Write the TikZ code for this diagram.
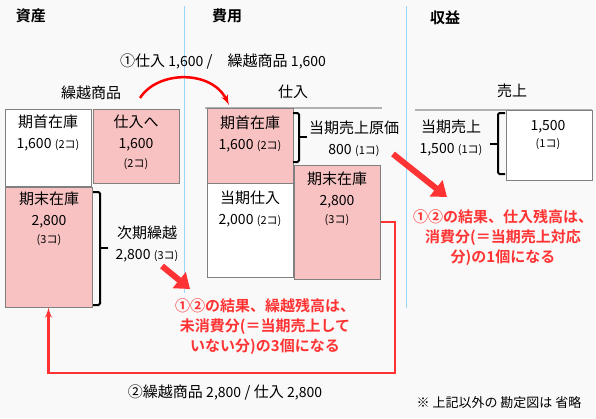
\documentclass[tikz,border=0pt]{standalone}
\usepackage{fontspec}
\setmainfont{Noto Sans CJK JP}[BoldFont={Noto Sans CJK JP Bold}]
\usetikzlibrary{arrows,arrows.meta,shadows}

\definecolor{stockpink}{RGB}{248,194,194}
\definecolor{boxline}{RGB}{128,128,128}
\definecolor{notered}{RGB}{255,51,51}
\definecolor{divblue}{RGB}{150,214,250}
\definecolor{paper}{RGB}{249,249,249}

\newcommand\amt[1]{{\fontsize{14}{21}\selectfont #1}}
\newcommand\pcs[1]{{\fontsize{11}{21}\selectfont (#1コ)}}

\begin{document}
\begin{tikzpicture}[x=1pt,y=-1pt,>=latex',
    entry/.style={draw=boxline,line width=1pt,minimum width=86pt,inner sep=0pt,
      general shadow={fill=black!15,shadow xshift=1pt,shadow yshift=-1pt}},
    stock/.style={entry,fill=stockpink},
    flow/.style={entry,fill=white},
    lbl/.style={font=\fontsize{15}{21}\selectfont,align=center,inner sep=0pt},
    head/.style={font=\fontsize{15}{18}\selectfont\bfseries,inner sep=0pt},
    note/.style={font=\fontsize{15}{20}\selectfont\bfseries,text=notered,align=center,inner sep=0pt},
    tline/.style={draw=black!30,line width=2pt},
    brk/.style={line width=2pt,rounded corners=1.5pt},
    fat/.style={draw=notered,line width=6pt,-{Triangle[width=20pt,length=14pt]}},
    carry/.style={draw=notered,line width=2.5pt,->}]
    \fill[paper] (0,0) rectangle (596,418);
    \useasboundingbox (0,0) rectangle (596,418);
    % dividers
    \draw[divblue,line width=0.8pt] (184,6) -- (184,293);
    \draw[divblue,line width=0.8pt] (406,6) -- (406,308);
    % headings and journal entries
    \node[head] (hAsset) at (31,16) {資産};
    \node[head] (hCost) at (227,16) {費用};
    \node[head] (hRev) at (445,18) {収益};
    \node[lbl] (jnlA) at (223,61) {①仕入 \amt{1,600} /　繰越商品 \amt{1,600}};
    \node[lbl] (jnlB) at (225,392) {②繰越商品 \amt{2,800} / 仕入 \amt{2,800}};
    % T accounts
    \node[lbl] (tCarry) at (91,93) {繰越商品};
    \node[lbl] (tPur) at (293,92) {仕入};
    \node[lbl] (tSale) at (512,91) {売上};
    \draw[tline] (205,108) -- (382,108);
    \draw[tline] (415,110) -- (592,110);
    % carry-over goods
    \node[flow,minimum height=77pt] (openL) at (48,147.5) {};
    \node[stock,minimum height=74pt] (toPur) at (136,146) {};
    \node[stock,minimum width=87pt,minimum height=120pt] (closeL) at (48.5,247) {};
    \node[lbl] (openLt) at (48,132.5) {期首在庫\\\amt{1,600} \pcs{2}};
    \node[lbl] (toPurt) at (136,142) {仕入へ\\\amt{1,600}\\[-2pt]\pcs{2}};
    \node[lbl] (closeLt) at (49,218.5) {期末在庫\\\amt{2,800}\\[-3pt]\pcs{3}};
    \node[lbl] (nextT) at (147,244.5) {次期繰越\\\amt{2,800} \pcs{3}};
    % purchases
    \node[stock,minimum height=75pt] (openP) at (250,145.5) {};
    \node[flow,minimum height=94pt] (buyP) at (250,230) {};
    \node[stock,minimum height=114pt] (closeP) at (337,222) {};
    \node[lbl] (openPt) at (250,133.5) {期首在庫\\\amt{1,600} \pcs{2}};
    \node[lbl] (buyPt) at (250,209) {当期仕入\\\amt{2,000} \pcs{2}};
    \node[lbl] (closePt) at (337,199) {期末在庫\\\amt{2,800}\\[-3pt]\pcs{3}};
    \node[lbl] (cogsT) at (354,138.5) {当期売上原価\\\amt{800} \pcs{1}};
    % sales
    \node[flow,minimum height=70pt] (saleB) at (549,145) {};
    \node[lbl] (saleBt) at (548,134.5) {\amt{1,500}\\[-4pt]\pcs{1}};
    \node[lbl] (saleT) at (451,138.5) {当期売上\\\amt{1,500} \pcs{1}};
    % brackets
    \draw[brk] (93,192) -- (100,192) -- (100,305) -- (93,305);
    \draw[brk] (100,248) -- (108,248);
    \draw[brk] (293,113) -- (299,113) -- (299,162) -- (293,162);
    \draw[brk] (299,137) -- (307,137);
    \draw[brk] (505,113) -- (498,113) -- (498,174) -- (505,174);
    \draw[brk] (498,144) -- (490,144);
    % notes
    \node[note] (noteA) at (265,326.5) {①②の結果、繰越残高は、\\未消費分(＝当期売上して\\いない分)の3個になる};
    \node[note] (noteB) at (503,238) {①②の結果、仕入残高は、\\消費分(＝当期売上対応\\分)の1個になる};
    \node[font=\fontsize{13}{16}\selectfont,inner sep=0pt] (foot) at (499,403) {※ 上記以外の 勘定図は 省略};
    % arrows
    \coordinate (swingA) at (140,98);
    \coordinate (swingB) at (229,105);
    \draw[carry,red] (swingA) .. controls (158,70) and (212,70) .. (swingB);
    \coordinate (turn) at (395,373);
    \draw[carry] (closeP.east) -| (turn) -| (closeL.south);
    \coordinate (ptA) at (162,266);
    \coordinate (ptB) at (190,289);
    \draw[fat] (ptA) -- (ptB);
    \coordinate (ptC) at (393,154);
    \coordinate (ptD) at (447,197);
    \draw[fat] (ptC) -- (ptD);
\end{tikzpicture}
\end{document}
